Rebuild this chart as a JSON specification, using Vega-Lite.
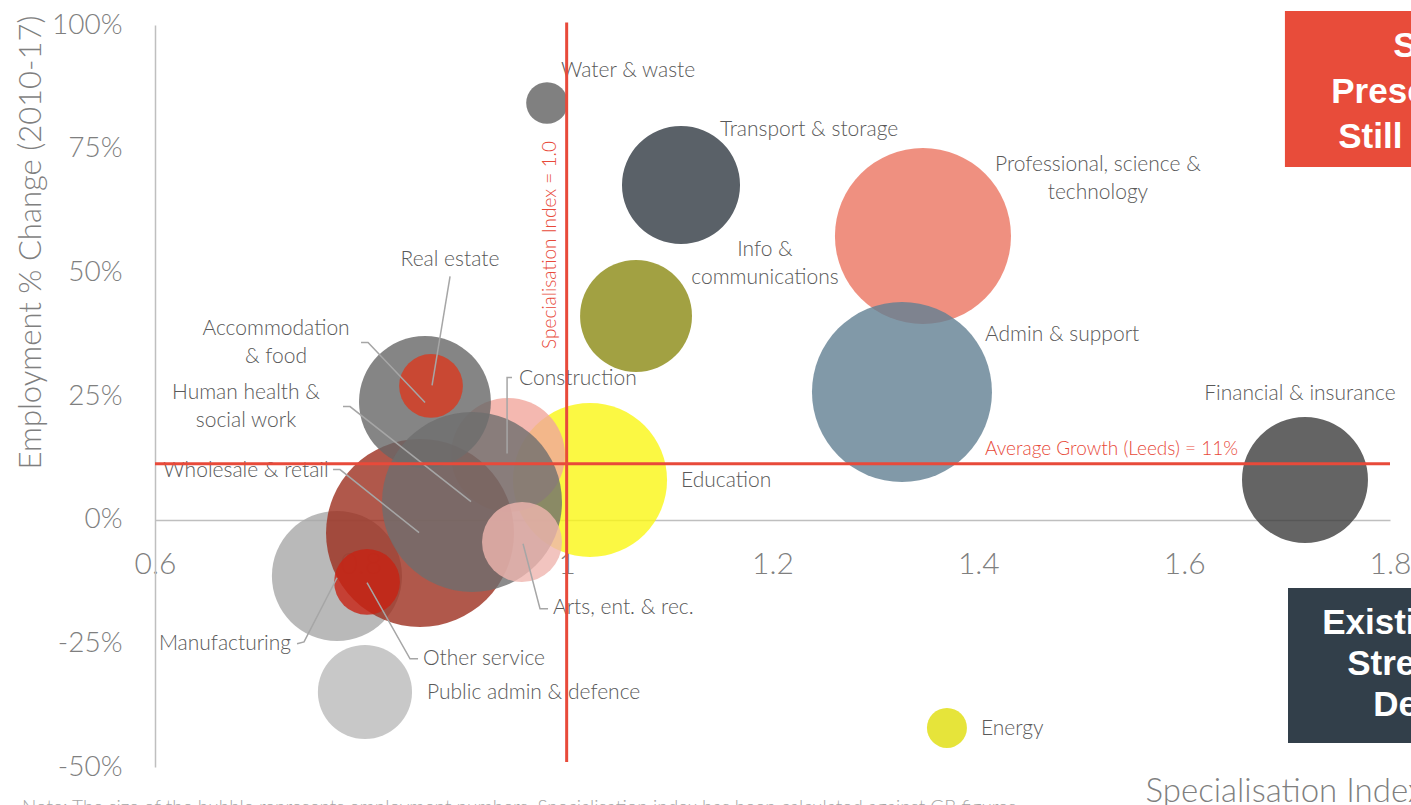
{
  "$schema": "https://vega.github.io/schema/vega-lite/v6.json",
  "width": 1235,
  "height": 742,
  "autosize": {"type": "none"},
  "padding": {"left": 155, "top": 25, "right": 21, "bottom": 38},
  "background": "white",
  "config": {"view": {"stroke": null}, "font": "Lato"},
  "datasets": {
    "bubbles": [
      {"sector": "Education", "x": 1.0227, "y": 0.0803, "employment": 35600},
      {"sector": "Construction", "x": 0.943, "y": 0.1308, "employment": 19500},
      {"sector": "Manufacturing", "x": 0.7768, "y": -0.1138, "employment": 25400},
      {"sector": "Public admin & defence", "x": 0.804, "y": -0.3483, "employment": 13300},
      {"sector": "Wholesale & retail", "x": 0.8575, "y": -0.0269, "employment": 53000},
      {"sector": "Accommodation & food", "x": 0.8623, "y": 0.2379, "employment": 26100},
      {"sector": "Human health & social work", "x": 0.908, "y": 0.0358, "employment": 48600},
      {"sector": "Real estate", "x": 0.8682, "y": 0.2703, "employment": 6100},
      {"sector": "Other service", "x": 0.806, "y": -0.1259, "employment": 6500},
      {"sector": "Arts, ent. & rec.", "x": 0.9566, "y": -0.0451, "employment": 9600},
      {"sector": "Water & waste", "x": 0.9809, "y": 0.8423, "employment": 2600},
      {"sector": "Transport & storage", "x": 1.1111, "y": 0.6766, "employment": 20900},
      {"sector": "Professional, science & technology", "x": 1.3462, "y": 0.5735, "employment": 46500},
      {"sector": "Info & communications", "x": 1.0674, "y": 0.4118, "employment": 18800},
      {"sector": "Admin & support", "x": 1.3258, "y": 0.2581, "employment": 48600},
      {"sector": "Financial & insurance", "x": 1.7174, "y": 0.0803, "employment": 23800},
      {"sector": "Energy", "x": 1.3695, "y": -0.4211, "employment": 2400}
    ],
    "labelsLeft": [
      {"label": "Water & waste", "x": 0.9945, "y": 0.907},
      {"label": "Transport & storage", "x": 1.149, "y": 0.7877},
      {"label": "Admin & support", "x": 1.4065, "y": 0.3734},
      {"label": "Education", "x": 1.1111, "y": 0.0782},
      {"label": "Construction", "x": 0.9537, "y": 0.2844},
      {"label": "Other service", "x": 0.8604, "y": -0.2816},
      {"label": "Arts, ent. & rec.", "x": 0.9867, "y": -0.1785},
      {"label": "Public admin & defence", "x": 0.8643, "y": -0.3503},
      {"label": "Energy", "x": 1.4026, "y": -0.4231}
    ],
    "labelsCenter": [
      {"label": "Professional, science &\ntechnology", "x": 1.5162, "y": 0.717},
      {"label": "Info &\ncommunications", "x": 1.1927, "y": 0.5452},
      {"label": "Financial & insurance", "x": 1.7125, "y": 0.2541},
      {"label": "Real estate", "x": 0.8866, "y": 0.525},
      {"label": "Accommodation\n& food", "x": 0.7176, "y": 0.3855},
      {"label": "Human health &\nsocial work", "x": 0.6884, "y": 0.2561},
      {"label": "Wholesale & retail", "x": 0.6884, "y": 0.0984},
      {"label": "Manufacturing", "x": 0.668, "y": -0.2513}
    ],
    "leaders": [
      {"id": "Real estate", "seq": 1, "x": 0.8867, "y": 0.4919},
      {"id": "Real estate", "seq": 2, "x": 0.8692, "y": 0.2713},
      {"id": "Accommodation", "seq": 1, "x": 0.8002, "y": 0.3583},
      {"id": "Accommodation", "seq": 2, "x": 0.807, "y": 0.3583},
      {"id": "Accommodation", "seq": 3, "x": 0.8624, "y": 0.2368},
      {"id": "Human health", "seq": 1, "x": 0.7827, "y": 0.2287},
      {"id": "Human health", "seq": 2, "x": 0.7895, "y": 0.2287},
      {"id": "Human health", "seq": 3, "x": 0.9071, "y": 0.0364},
      {"id": "Wholesale", "seq": 1, "x": 0.773, "y": 0.1012},
      {"id": "Wholesale", "seq": 2, "x": 0.7798, "y": 0.1012},
      {"id": "Wholesale", "seq": 3, "x": 0.8566, "y": -0.0263},
      {"id": "Construction", "seq": 1, "x": 0.9469, "y": 0.2874},
      {"id": "Construction", "seq": 2, "x": 0.9421, "y": 0.2874},
      {"id": "Construction", "seq": 3, "x": 0.9421, "y": 0.1336},
      {"id": "Manufacturing", "seq": 1, "x": 0.738, "y": -0.251},
      {"id": "Manufacturing", "seq": 2, "x": 0.7448, "y": -0.247},
      {"id": "Manufacturing", "seq": 3, "x": 0.7769, "y": -0.1174},
      {"id": "Other service", "seq": 1, "x": 0.806, "y": -0.1275},
      {"id": "Other service", "seq": 2, "x": 0.8478, "y": -0.2814},
      {"id": "Other service", "seq": 3, "x": 0.8556, "y": -0.2814},
      {"id": "Arts", "seq": 1, "x": 0.9576, "y": -0.0486},
      {"id": "Arts", "seq": 2, "x": 0.9741, "y": -0.1802},
      {"id": "Arts", "seq": 3, "x": 0.9819, "y": -0.1802}
    ],
    "vline": [{"x": 1.0, "y": 1.005, "y2": -0.49}],
    "hline": [{"x": 0.6, "x2": 1.8, "y": 0.113}],
    "vlineText": [{"label": "Specialisation Index = 1.0", "x": 0.9838, "y": 0.5553}],
    "hlineText": [{"label": "Average Growth (Leeds) = 11%", "x": 1.4065, "y": 0.1429}],
    "boxTop": [{"x": 1.6979, "x2": 1.9, "y": 1.0283, "y2": 0.713}],
    "boxBottom": [{"x": 1.7009, "x2": 1.9, "y": -0.1381, "y2": -0.4514}],
    "boxText": [
      {"label": "Strong", "x": 1.8031, "y": 0.9352},
      {"label": "Presence,", "x": 1.7429, "y": 0.8421},
      {"label": "Still Growing", "x": 1.7497, "y": 0.751},
      {"label": "Existing", "x": 1.7341, "y": -0.2308},
      {"label": "Strengths,", "x": 1.7584, "y": -0.3138},
      {"label": "Declining", "x": 1.7837, "y": -0.3968}
    ],
    "note": [
      {"label": "Note: The size of the bubble represents employment numbers. Specialisation index has been calculated against GB figures", "x": 0.4708, "y": -0.5646}
    ]
  },
  "encoding": {
    "x": {
      "field": "x",
      "type": "quantitative",
      "scale": {"domain": [0.6, 1.8], "nice": false, "zero": false},
      "axis": {
        "orient": "bottom",
        "offset": -247,
        "values": [0.6, 0.8, 1, 1.2, 1.4, 1.6, 1.8],
        "format": "~g",
        "labelFontSize": 30,
        "labelFontWeight": 300,
        "labelColor": "#7f7f7f",
        "labelPadding": 29,
        "labelFlush": false,
        "labelOverlap": false,
        "ticks": false,
        "grid": false,
        "domainColor": "#bfbfbf",
        "domainWidth": 1.5,
        "title": "Specialisation Index",
        "titleFontSize": 33,
        "titleFontWeight": 300,
        "titleColor": "#7f7f7f",
        "titleX": 990,
        "titleY": 281,
        "titleAlign": "left",
        "titleBaseline": "alphabetic",
        "titleAngle": 0
      }
    },
    "y": {
      "field": "y",
      "type": "quantitative",
      "scale": {"domain": [-0.5, 1], "nice": false, "zero": false},
      "axis": {
        "values": [-0.5, -0.25, 0, 0.25, 0.5, 0.75, 1],
        "labelExpr": "replace(format(datum.value, '.0%'), '\u2212', '-')",
        "labelFontSize": 28,
        "labelFontWeight": 300,
        "labelColor": "#7f7f7f",
        "labelPadding": 33,
        "labelOverlap": false,
        "ticks": false,
        "grid": false,
        "domainColor": "#bfbfbf",
        "domainWidth": 1.5,
        "title": "Employment % Change (2010-17)",
        "titleFontSize": 31,
        "titleFontWeight": 300,
        "titleColor": "#7f7f7f",
        "titleX": -115,
        "titleY": -10,
        "titleAlign": "right",
        "titleAngle": -90,
        "titleBaseline": "alphabetic"
      }
    }
  },
  "layer": [
    {
      "data": {"name": "bubbles"},
      "mark": {"type": "circle", "opacity": 0.8},
      "encoding": {
        "size": {"field": "employment", "type": "quantitative", "scale": {"type": "linear", "domain": [0, 60000], "range": [0, 40000]}, "legend": null},
        "color": {
          "field": "sector",
          "type": "nominal",
          "legend": null,
          "scale": {
            "domain": ["Education", "Construction", "Manufacturing", "Public admin & defence", "Wholesale & retail", "Accommodation & food", "Human health & social work", "Real estate", "Other service", "Arts, ent. & rec.", "Water & waste", "Transport & storage", "Professional, science & technology", "Info & communications", "Admin & support", "Financial & insurance", "Energy"],
            "range": ["#faf614", "#f1a69c", "#a7a7a7", "#bababa", "#9c2e1e", "#666666", "#6e6e6e", "#da381e", "#c82213", "#efb5af", "#606060", "#313a42", "#eb7460", "#8b8913", "#618092", "#3d3d3d", "#e0dd09"]
          }
        },
        "order": {"value": null}
      }
    },
    {
      "data": {"name": "labelsLeft"},
      "mark": {"type": "text", "align": "left", "baseline": "middle", "fontSize": 21, "fontWeight": 300, "color": "#595959"},
      "encoding": {"text": {"field": "label"}}
    },
    {
      "data": {"name": "labelsCenter"},
      "mark": {"type": "text", "align": "center", "baseline": "middle", "fontSize": 21, "fontWeight": 300, "color": "#595959", "lineBreak": "\n", "lineHeight": 28},
      "encoding": {"text": {"field": "label"}}
    },
    {
      "data": {"name": "leaders"},
      "mark": {"type": "line", "color": "#a6a6a6", "strokeWidth": 1.5},
      "encoding": {"detail": {"field": "id"}, "order": {"field": "seq", "type": "quantitative"}}
    },
    {
      "data": {"name": "vline"},
      "mark": {"type": "rule", "color": "#e84a3a", "strokeWidth": 3},
      "encoding": {"y2": {"field": "y2"}}
    },
    {
      "data": {"name": "hline"},
      "mark": {"type": "rule", "color": "#e84a3a", "strokeWidth": 3},
      "encoding": {"x2": {"field": "x2"}}
    },
    {
      "data": {"name": "vlineText"},
      "mark": {"type": "text", "angle": 270, "align": "center", "baseline": "middle", "fontSize": 19, "fontWeight": 300, "color": "#e84a3a"},
      "encoding": {"text": {"field": "label"}}
    },
    {
      "data": {"name": "hlineText"},
      "mark": {"type": "text", "align": "left", "baseline": "middle", "fontSize": 19, "fontWeight": 300, "color": "#e84a3a"},
      "encoding": {"text": {"field": "label"}}
    },
    {
      "data": {"name": "boxTop"},
      "mark": {"type": "rect", "color": "#e84c3a"},
      "encoding": {"x2": {"field": "x2"}, "y2": {"field": "y2"}}
    },
    {
      "data": {"name": "boxBottom"},
      "mark": {"type": "rect", "color": "#323f4a"},
      "encoding": {"x2": {"field": "x2"}, "y2": {"field": "y2"}}
    },
    {
      "data": {"name": "boxText"},
      "mark": {"type": "text", "align": "left", "baseline": "alphabetic", "font": "Liberation Sans", "fontSize": 35, "fontWeight": "bold", "color": "white"},
      "encoding": {"text": {"field": "label"}}
    },
    {
      "data": {"name": "note"},
      "mark": {"type": "text", "align": "left", "baseline": "top", "fontSize": 19, "fontWeight": 300, "color": "#a6a6a6"},
      "encoding": {"text": {"field": "label"}}
    }
  ]
}
